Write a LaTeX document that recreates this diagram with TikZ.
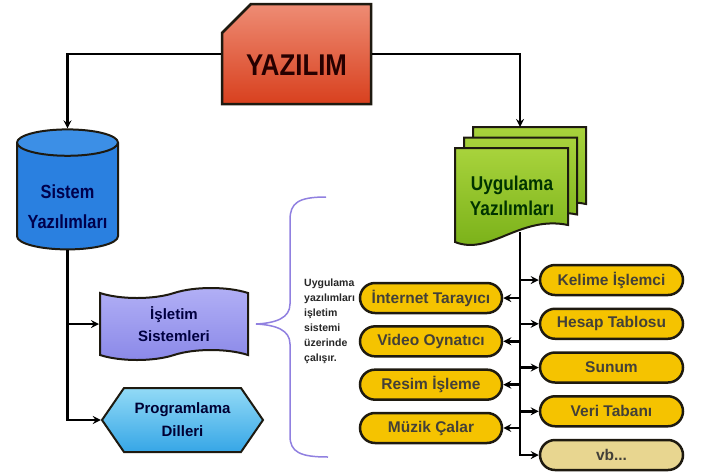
\documentclass[tikz,border=0pt]{standalone}
\usepackage{fontspec}
\setmainfont{Liberation Sans}
\newfontfamily\narrowfont{Liberation Sans}[FakeStretch=0.86]
\usepackage{xcolor}
\usepackage{tikz}
\usetikzlibrary{shapes.geometric, shapes.misc, shapes.symbols, arrows, positioning}
\definecolor{yazTop}{HTML}{EE8C74}
\definecolor{yazBot}{HTML}{D8401E}
\definecolor{cylEnd}{HTML}{3C8FE6}
\definecolor{cylBody}{HTML}{2A80E0}
\definecolor{tapeTop}{HTML}{B2B0F6}
\definecolor{tapeBot}{HTML}{8A88E8}
\definecolor{hexTop}{HTML}{92DAF6}
\definecolor{hexBot}{HTML}{36A6E6}
\definecolor{docTop}{HTML}{A8D33C}
\definecolor{docBot}{HTML}{76AE16}
\definecolor{pillFill}{HTML}{F5C300}
\definecolor{vbFill}{HTML}{E8D690}
\definecolor{edge}{HTML}{1E1A10}
\definecolor{braceCol}{HTML}{9080E0}
\tikzstyle{ARROW}  = [line width=2.5pt, ->, >=stealth]
\tikzstyle{TOPBOX} = [chamfered rectangle,     % cut corner box
                      chamfered rectangle corners=north west,
                      chamfered rectangle xsep=17pt,
                      chamfered rectangle ysep=12pt,
                      draw=edge, line width=2.5pt,
                      top color=yazTop, bottom color=yazBot,
                      minimum width=149pt, minimum height=100pt, inner sep=0pt,
                      text height=42pt, text depth=0pt,
                      font=\narrowfont\bfseries\fontsize{30}{32}\selectfont, text=black!85!red]
\tikzstyle{CYL}    = [cylinder, shape border rotate=90, aspect=0.33,
                      draw=edge, line width=2pt,
                      cylinder uses custom fill, cylinder body fill=cylBody, cylinder end fill=cylEnd,
                      minimum width=101pt, minimum height=120pt, inner sep=0pt,
                      text=blue!30!black,
                      font=\narrowfont\bfseries\fontsize{19}{23}\selectfont]
\tikzstyle{TAPE}   = [tape, tape bend top=in and out, tape bend bottom=in and out,
                      tape bend height=10pt,
                      draw=edge, line width=2pt,
                      top color=tapeTop, bottom color=tapeBot,
                      minimum width=148pt, minimum height=72pt, inner sep=0pt,
                      align=center, text=blue!25!black,
                      font=\bfseries\fontsize{15}{22}\selectfont]
\tikzstyle{HEX}    = [signal, signal to=west and east, signal pointer angle=111,
                      draw=edge, line width=2pt,
                      top color=hexTop, bottom color=hexBot,
                      minimum width=161pt, minimum height=64pt, inner sep=0pt,
                      align=center, text=blue!20!black,
                      font=\bfseries\fontsize{15}{23}\selectfont]
\tikzstyle{DOC}    = [draw=edge, line width=2pt, top color=docTop, bottom color=docBot]
\tikzstyle{PILL}   = [rounded rectangle, draw=edge, line width=2.5pt,
                      fill=pillFill,
                      minimum width=143pt, minimum height=30pt, inner sep=0pt,
                      text=black!85!yellow,
                      font=\bfseries\fontsize{15.5}{17}\selectfont]
\tikzstyle{NOTE}   = [align=left, inner sep=0pt, text=black!85,
                      font=\bfseries\fontsize{10.5}{15}\selectfont]
\begin{document}
\begin{tikzpicture}[x=1pt, y=1pt]
		\useasboundingbox (0,0) rectangle (701,-475);
		
		% Top
		\node(yaz)[TOPBOX] at (296.5,-54)
		{
			YAZILIM
		};
		
		
		
		% System software
		\node(sis)[CYL] at (67.5,-196.5)
		{
			\raisebox{-17pt}[0pt][0pt]{\begin{tabular}{@{}c@{}}Sistem\\[7pt]Yazılımları\end{tabular}}
		};
		\node(isl)[TAPE] at (174,-324)
		{
			İşletim\\Sistemleri
		};
		\node(prog)[HEX] at (182.5,-420)
		{
			Programlama\\Dilleri
		};
		
		
		
		% Application software (stacked documents)
		\foreach \dx/\dy in {18/21, 9/10.5, 0/0}
		{
			\draw[DOC, shift={(\dx,\dy)}] (455,-148) -- (568,-148) -- (568,-225)
			.. controls (520,-215) and (490,-256) .. (455,-242) -- cycle;
		}
		\node(app)[align=center, text=green!20!black,
		font=\narrowfont\bfseries\fontsize{20}{25}\selectfont] at (512,-196)
		{
			Uygulama\\Yazılımları
		};
		\coordinate(appin) at (520,-127);
		\coordinate(appout) at (520,-232);
		
		
		
		% Brace and note
		\draw[braceCol, line width=1.5pt] (326,-197) .. controls (298,-197) and (290,-203) .. (290,-220)
		-- (290,-304) .. controls (290,-318) and (276,-323) .. (256,-324)
		.. controls (276,-325) and (290,-330) .. (290,-344)
		-- (290,-436) .. controls (290,-452) and (300,-457) .. (328,-457);
		\node(note)[NOTE, anchor=north west] at (304,-279)
		{
			Uygulama\\yazılımları\\işletim\\sistemi\\üzerinde\\çalışır.
		};
		
		
		
		% Right column
		\node(kel)[PILL] at (611.5,-280) {Kelime İşlemci};
		\node(hes)[PILL, below of=kel, node distance=43.75pt] {Hesap Tablosu};
		\node(sun)[PILL, below of=hes, node distance=43.75pt] {Sunum};
		\node(ver)[PILL, below of=sun, node distance=43.75pt] {Veri Tabanı};
		\node(vb)[PILL, fill=vbFill, below of=ver, node distance=43.75pt] {vb...};
		
		% Left column
		\node(int)[PILL, minimum width=142pt] at (431,-298) {İnternet Tarayıcı};
		\node(vid)[PILL, minimum width=142pt, below of=int, node distance=43.33pt] {Video Oynatıcı};
		\node(res)[PILL, minimum width=142pt, below of=vid, node distance=43.33pt] {Resim İşleme};
		\node(muz)[PILL, minimum width=142pt, below of=res, node distance=43.33pt] {Müzik Çalar};
		
		
		
		% Arrows from YAZILIM
		\draw[ARROW] (yaz.west) -| (sis.north);
		\draw[ARROW] (yaz.east) -| (appin);
		% Arrows from system software
		\draw[ARROW] (sis.south) |- (prog.west);
		\draw[ARROW] (sis.south |- isl.west) -- (isl.west);
		% Arrows from application software
		\draw[ARROW] (appout) |- (vb.west);
		\foreach \n in {kel, hes, sun, ver}
			\draw[ARROW] (appout |- \n.west) -- (\n.west);
		\foreach \n in {int, vid, res, muz}
			\draw[ARROW] (appout |- \n.east) -- (\n.east);
		
\end{tikzpicture}
\end{document}
